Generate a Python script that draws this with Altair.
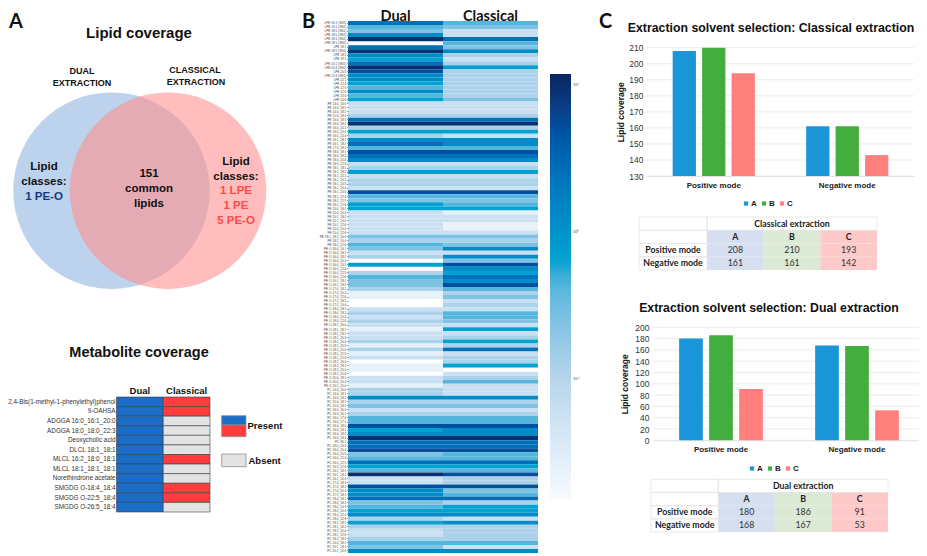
import altair as alt
import pandas as pd

W, H = 911, 545
SANS = "Liberation Sans"
HUM = "Lato"

# ---------- Panel A: Venn ----------
VENN_SETS = ["Dual extraction", "Classical extraction"]
VENN_CX = [111.5, 168]
VENN_CY = [190.7, 190.7]
VENN_TEXT = ["Lipid coverage", "DUAL", "EXTRACTION", "CLASSICAL", "EXTRACTION",
             "Lipid", "classes:", "1 PE-O", "151", "common", "lipids",
             "Lipid", "classes:", "1 LPE", "1 PE", "5 PE-O"]
VENN_TX = [139, 82, 82, 195, 196, 44, 44, 44, 149, 149, 149, 236, 236, 236, 236, 236]
VENN_TY = [33, 71, 83, 70, 82, 167, 182, 197, 174, 189, 204, 162, 177, 191, 206, 221]
VENN_TS = [15, 9, 9, 9, 9, 11.5, 11.5, 11.5, 11.5, 11.5, 11.5, 11.5, 11.5, 11.5, 11.5, 11.5]
VENN_TC = ["#111"] * 7 + ["#123a85"] + ["#111"] * 5 + ["#ff4a4a"] * 3

# ---------- Panel A: metabolites ----------
METABOLITES = ["2,4-Bis(1-methyl-1-phenylethyl)phenol", "9-OAHSA", "ADGGA 16:0_16:1_20:0",
               "ADGGA 18:0_18:0_22:3", "Deoxycholic acid", "DLCL 18:1_18:1",
               "MLCL 16:2_18:0_18:1", "MLCL 18:1_18:1_18:1", "Norethindrone acetate",
               "SMGDG O-18:4_18:4", "SMGDG O-22:5_18:4", "SMGDG O-26:5_18:4"]
CLASSICAL_PRESENT = [1, 1, 0, 0, 0, 0, 1, 0, 0, 1, 1, 0]

# ---------- Panel B: heatmap ----------
LIPIDS = [
 "LPE 16:1 (SN1)", "LPE 16:1 (SN2)", "LPE 18:0 (SN1)", "LPE 18:0 (SN2)", "LPE 18:1 (SN1)",
 "LPE 18:1 (SN2)", "LPE 18:1", "LPE 18:2 (SN1)", "LPE 18:2", "LPE 19:1",
 "LPE 20:1 (SN1)", "LPE 20:4 (SN1)", "LPE 20:5", "LPE 22:4 (SN1)", "LPE 22:1",
 "LPE 22:4", "LPE 22:5", "LPE 22:6", "LPE 24:5", "LPE 24:6",
 "PE 14:0_16:0", "PE 14:0_18:1", "PE 14:0_18:2", "PE 15:0_18:1", "PE 16:0_18:1",
 "PE 16:0_18:2", "PE 16:0_20:1", "PE 16:0_20:4", "PE 16:0_22:4", "PE 16:1_18:1",
 "PE 16:1_18:2", "PE 17:0_18:1", "PE 18:0_18:1", "PE 18:0_18:2", "PE 18:0_20:4",
 "PE 18:0_22:4", "PE 18:1_18:1", "PE 18:1_18:2", "PE 18:1_20:1", "PE 18:1_20:2",
 "PE 18:1_20:3", "PE 18:1_20:4", "PE 18:1_20:5", "PE 18:1_22:4", "PE 18:1_22:5",
 "PE 18:1_22:6", "PE 20:0_18:1", "PE 20:0_20:4", "PE 20:1_18:2", "PE 20:1_20:4",
 "PE 20:1_22:6", "PE 20:4_20:4", "PE 20:4_22:6", "PE 18:1_18:1_20:4", "PE 18:2_20:4",
 "PE 18:2_22:6",
 "PE O-16:0_16:1", "PE O-16:0_18:1", "PE O-16:0_18:2", "PE O-16:0_20:4", "PE O-16:0_20:5",
 "PE O-16:0_22:4", "PE O-16:0_22:5", "PE O-16:0_22:6", "PE O-16:1_18:1", "PE O-16:1_18:2",
 "PE O-17:0_18:1", "PE O-17:0_20:4", "PE O-17:0_22:6", "PE O-17:1_18:1", "PE O-17:1_20:4",
 "PE O-18:0_18:1", "PE O-18:0_18:2", "PE O-18:0_20:4", "PE O-18:0_22:6", "PE O-18:1_16:0",
 "PE O-18:1_18:1", "PE O-18:1_18:2", "PE O-18:1_20:3", "PE O-18:1_20:4", "PE O-18:1_20:5",
 "PE O-18:1_22:4", "PE O-18:1_22:5", "PE O-18:1_22:6", "PE O-18:2_16:0", "PE O-18:2_18:1",
 "PE O-18:2_20:4", "PE O-18:2_22:6", "PE O-20:0_18:1", "PE O-20:0_20:4", "PE O-20:1_20:4",
 "PC 14:0_16:0", "PC 14:0_18:1", "PC 14:0_18:2", "PC 15:0_18:1", "PC 15:0_18:2",
 "PC 16:0_16:0", "PC 16:0_16:1", "PC 16:0_17:0", "PC 16:0_17:1", "PC 16:0_18:0",
 "PC 16:0_18:1", "PC 16:0_18:2", "PC 16:0_18:3", "PC 36:1", "PC 16:0_20:3",
 "PC 16:0_20:4", "PC 16:0_20:5", "PC 16:0_22:4", "PC 16:0_22:5", "PC 16:0_22:6",
 "PC 16:1_18:1", "PC 16:1_18:2", "PC 16:1_20:4", "PC 17:0_18:1", "PC 17:0_18:2",
 "PC 17:0_20:4", "PC 17:1_18:1", "PC 18:0_18:1", "PC 18:0_18:2", "PC 18:0_20:3",
 "PC 18:0_20:4", "PC 18:0_22:4", "PC 18:0_22:6", "PC 18:1_18:1", "PC 18:1_18:2",
 "PC 18:1_20:4", "PC 18:1_22:6", "PC 18:2_18:2", "PC 20:0_18:1", "PC 20:1_18:1",
 "PC 20:1_20:4",
]
LEVEL_VALUES = [None, 0.025, 0.06, 0.12, 0.25, 0.42, 0.65, 1.2, 2.6, 5.0, 9.5]
DUAL_LEVELS = [8,5,4,7,10,0,8,10,7,6,8,10,9,7,7,6,5,7,5,6,
               2,2,2,3,8,10,3,6,3,7,8,5,9,
               8,7,2,3,6,2,3,3,2,9,5,4,6,6,2,2,2,2,2,2,4,3,5,4,2,3,0,6,0,3,5,4,4,
               3,1,1,0,0,2,3,2,3,2,1,2,2,3,1,3,1,2,0,1,1,0,2,2,1,3,3,7,3,4,2,3,5,
               5,9,6,7,10,8,8,9,4,5,8,6,5,10,2,2,9,7,7,8,4,5,6,7,3,6,3,2,2,3,5,4,7]
CLASSICAL_LEVELS = [5,4,2,2,8,5,4,7,3,2,3,6,3,3,3,3,3,3,3,4,
                    2,2,2,3,8,10,3,6,2,7,7,5,9,
                    8,7,2,3,6,2,3,3,2,9,5,4,5,6,1,2,2,1,1,2,4,3,4,7,2,7,4,9,7,6,8,7,9,
                    5,3,4,2,3,2,5,5,4,2,6,2,3,6,3,8,2,3,3,6,0,2,3,5,2,2,2,7,3,4,2,3,5,
                    5,9,7,7,10,8,8,9,5,5,8,6,5,9,3,3,9,4,5,8,3,6,6,7,2,7,3,3,3,3,5,2,7]
HEAT_DOMAIN = [0.0152, 0.1, 0.4, 0.62, 2.6, 5.0, 11.9]
HEAT_RANGE = ["#f7fbff", "#b6d6ec", "#5ab8de", "#00a4d3", "#0070b8", "#0050a0", "#08265f"]

# ---------- Panel C ----------
MODES = ["Positive mode", "Negative mode"]
SOLVENTS = ["A", "B", "C"]
CLASSICAL_BARS = [[208, 210, 194], [161, 161, 143]]
DUAL_BARS = [[180, 186, 91], [168, 167, 53]]
CLASSICAL_TABLE = [[208, 210, 193], [161, 161, 142]]
DUAL_TABLE = [[180, 186, 91], [168, 167, 53]]
SOLVENT_COLORS = ["#1a96d8", "#43ae3f", "#ff7f7c"]
TABLE_COLORS = ["#d5dff0", "#dcead5", "#fdc9c9"]
CLASSICAL_TICKS = [130, 140, 150, 160, 170, 180, 190, 200, 210]
DUAL_TICKS = [0, 20, 40, 60, 80, 100, 120, 140, 160, 180, 200]


def px(v):
    return v - 8


PAGE_X = alt.Scale(domain=[8, 8 + W], range=[0, W])
PAGE_Y = alt.Scale(domain=[8, 8 + H], range=[0, H])
layers = []


def one():
    return pd.DataFrame({"k": [1]})


# ---- Venn
for i, (col, op) in enumerate([("#bdd2ec", 1), ("#ff9191", 0.6)]):
    d = pd.DataFrame({"set": [VENN_SETS[i]], "cx": [VENN_CX[i]], "cy": [VENN_CY[i]]})
    layers.append(alt.Chart(d).mark_circle(size=196.5 ** 2, color=col, opacity=op).encode(
        x=alt.X("cx:Q", scale=PAGE_X, axis=None),
        y=alt.Y("cy:Q", scale=PAGE_Y, axis=None)))

vt = pd.DataFrame({"t": VENN_TEXT, "x": VENN_TX, "y": VENN_TY, "s": VENN_TS, "c": VENN_TC})
layers.append(alt.Chart(vt).mark_text(font=SANS, fontWeight="bold", align="center", baseline="middle").encode(
    x=alt.X("x:Q", scale=PAGE_X, axis=None), y=alt.Y("y:Q", scale=PAGE_Y, axis=None),
    text="t:N", size=alt.Size("s:Q", scale=None, legend=None), color=alt.Color("c:N", scale=None, legend=None)))

# ---- Panel letters and headline texts
letters = pd.DataFrame({"t": ["A", "B", "C"], "x": [9, 302, 599], "y": [22, 22, 22]})
layers.append(alt.Chart(letters).mark_text(font=HUM, fontWeight="bold", fontSize=20, align="left", baseline="middle", color="#111").encode(
    x=alt.X("x:Q", scale=PAGE_X, axis=None), y=alt.Y("y:Q", scale=PAGE_Y, axis=None), text="t:N"))
titles = pd.DataFrame({
    "t": ["Metabolite coverage", "Extraction solvent selection: Classical extraction",
          "Extraction solvent selection: Dual extraction"],
    "x": [139, 771, 769], "y": [353, 27.7, 308], "s": [14.5, 12.3, 12.3]})
layers.append(alt.Chart(titles).mark_text(font=SANS, fontWeight="bold", align="center", baseline="middle", color="#111").encode(
    x=alt.X("x:Q", scale=PAGE_X, axis=None), y=alt.Y("y:Q", scale=PAGE_Y, axis=None),
    text="t:N", size=alt.Size("s:Q", scale=None, legend=None)))

# ---- Metabolite grid
met = pd.DataFrame(
    [{"m": m, "col": "Dual", "state": "Dual"} for m in METABOLITES] +
    [{"m": m, "col": "Classical", "state": "Classical" if p else "Absent"}
     for m, p in zip(METABOLITES, CLASSICAL_PRESENT)])
layers.append(alt.Chart(met).mark_rect(stroke="#3a3f4a", strokeWidth=0.6).encode(
    x=alt.X("col:N", sort=["Dual", "Classical"],
            scale=alt.Scale(domain=["Dual", "Classical"], range=[px(116.5), px(210)], padding=0),
            axis=alt.Axis(orient="top", offset=-px(397), title=None, labelAngle=0, ticks=False, domain=False,
                          labelFont=SANS, labelFontSize=9.5, labelFontWeight="bold", labelColor="#111", labelPadding=2)),
    y=alt.Y("m:N", sort=METABOLITES,
            scale=alt.Scale(domain=METABOLITES, range=[px(397), px(512)], padding=0),
            axis=alt.Axis(orient="left", offset=-px(116.5), title=None, ticks=False, domain=False,
                          labelFont=SANS, labelFontSize=6.35, labelColor="#333", labelPadding=1.5,
                          labelLimit=200, labelOverlap=False)),
    color=alt.Color("state:N", scale=alt.Scale(domain=["Dual", "Classical", "Absent"],
                                               range=["#1b6ec8", "#ff3d3d", "#e3e3e3"]), legend=None)))

SWATCHES = [("#1b6ec8", 415.7, 425), ("#ff3d3d", 425, 436.7), ("#e3e3e3", 454, 466.7)]
for c, y0, y1 in SWATCHES:
    layers.append(alt.Chart(one()).mark_rect(color=c, stroke="#8a8f96", strokeWidth=0.8).encode(
        x=alt.value(px(221.7)), x2=alt.value(px(246)), y=alt.value(px(y0)), y2=alt.value(px(y1))))
legtext = pd.DataFrame({"t": ["Present", "Absent"], "x": [247.5, 248.5], "y": [425.7, 460.7]})
layers.append(alt.Chart(legtext).mark_text(font=SANS, fontWeight="bold", fontSize=9.5, align="left", baseline="middle", color="#111").encode(
    x=alt.X("x:Q", scale=PAGE_X, axis=None), y=alt.Y("y:Q", scale=PAGE_Y, axis=None), text="t:N"))

# ---- Heatmap
assert len(LIPIDS) == len(DUAL_LEVELS) == len(CLASSICAL_LEVELS) == 132 and len(set(LIPIDS)) == 132
heat = pd.DataFrame(
    [{"lipid": l, "col": "Dual", "v": LEVEL_VALUES[v]} for l, v in zip(LIPIDS, DUAL_LEVELS)] +
    [{"lipid": l, "col": "Classical", "v": LEVEL_VALUES[v]} for l, v in zip(LIPIDS, CLASSICAL_LEVELS)])
heat = heat.dropna()
layers.append(alt.Chart(heat).mark_rect().encode(
    x=alt.X("col:N", sort=["Dual", "Classical"],
            scale=alt.Scale(domain=["Dual", "Classical"], range=[px(348), px(538)], padding=0),
            axis=alt.Axis(orient="top", offset=-px(21), title=None, labelAngle=0, ticks=True, tickSize=1, tickColor="#999",
                          domain=False, labelFont=HUM, labelFontSize=14.5, labelFontWeight="bold", labelColor="#111",
                          labelPadding=-3)),
    y=alt.Y("lipid:N", sort=LIPIDS,
            scale=alt.Scale(domain=LIPIDS, range=[px(21), px(553)], padding=0),
            axis=alt.Axis(orient="left", offset=-px(348), title=None, tickSize=1.5, tickColor="#999", domain=False,
                          labelFont=SANS, labelFontSize=3.1, labelColor="#444", labelPadding=0.8, labelOverlap=False)),
    color=alt.Color("v:Q", scale=alt.Scale(type="log", domain=HEAT_DOMAIN, range=HEAT_RANGE),
                    legend=alt.Legend(orient="none", legendX=px(550), legendY=px(74), title=None,
                                      gradientLength=425, gradientThickness=21, values=[0.1, 1, 10],
                                      labelExpr="datum.value >= 10 ? '10¹' : datum.value >= 1 ? '10⁰' : '10⁻¹'",
                                      labelFont=SANS, labelFontSize=4, labelColor="#444", labelOffset=2))))


# ---- Bars and tables
def bars(values, ticks, ydom, ypx, xpx, title_px, legend_xy):
    y_scale = alt.Scale(domain=ydom, range=[px(ypx[0]), px(ypx[1])], clamp=True)
    gx0, gx1 = xpx
    rows = pd.DataFrame({"tick": ticks})
    layers.append(alt.Chart(rows).mark_rule(color="#e6e6e6", strokeWidth=0.8).encode(
        y=alt.Y("tick:Q", scale=y_scale, axis=None),
        x=alt.value(px(gx0)), x2=alt.value(px(gx1))))
    d = pd.DataFrame([{"mode": m, "s": s, "v": values[i][j]}
                      for i, m in enumerate(MODES) for j, s in enumerate(SOLVENTS)])
    layers.append(alt.Chart(d).mark_bar().encode(
        x=alt.X("mode:N", sort=MODES,
                scale=alt.Scale(domain=MODES, range=[px(gx0), px(gx1)], paddingInner=0.338, paddingOuter=0.169),
                axis=alt.Axis(orient="bottom", offset=-(H - px(ypx[0])), title=None, labelAngle=0, ticks=False,
                              domain=True, domainColor="#e0e0e0", labelFont=SANS, labelFontSize=8,
                              labelFontWeight="bold", labelColor="#222", labelPadding=5)),
        xOffset=alt.XOffset("s:N", sort=SOLVENTS, scale=alt.Scale(domain=SOLVENTS, paddingInner=0.21, paddingOuter=0.105)),
        y=alt.Y("v:Q", stack=None, scale=y_scale,
                axis=alt.Axis(orient="left", offset=-px(gx0), values=ticks, grid=False, ticks=False, domain=False,
                              title="Lipid coverage", titleFont=SANS, titleFontSize=8.5, titleFontWeight="bold",
                              titleColor="#111", titlePadding=title_px, labelFont=SANS, labelFontSize=8.5,
                              labelColor="#333", labelPadding=4)),
        color=alt.Color("s:N", sort=SOLVENTS, scale=alt.Scale(domain=SOLVENTS, range=SOLVENT_COLORS),
                        legend=alt.Legend(orient="none", legendX=px(legend_xy[0]), legendY=px(legend_xy[1]),
                                          direction="horizontal", title=None, symbolType="square", symbolSize=18,
                                          labelFont=SANS, labelFontSize=8, labelFontWeight="bold", labelColor="#222",
                                          columns=3, columnPadding=3, labelOffset=1, padding=0))))


def table(name, values, x_lab0, x0, x1, y0, y1):
    rows = ["head", "abc"] + MODES
    xs = alt.Scale(type="band", domain=SOLVENTS, range=[px(x0), px(x1)], padding=0)
    ys = alt.Scale(type="band", domain=rows, range=[px(y0), px(y1)], padding=0)
    X = alt.X("s:N", sort=SOLVENTS, scale=xs, axis=None)
    Y = alt.Y("r:N", sort=rows, scale=ys, axis=None)
    XT = alt.X("s:N", sort=SOLVENTS, scale=xs, axis=None, bandPosition=0.5)
    YT = alt.Y("r:N", sort=rows, scale=ys, axis=None, bandPosition=0.5)
    cells = pd.DataFrame([{"s": s, "r": r} for s in SOLVENTS for r in rows[1:]])
    layers.append(alt.Chart(cells).mark_rect().encode(
        x=X, y=Y, color=alt.Color("s:N", scale=alt.Scale(domain=SOLVENTS, range=TABLE_COLORS), legend=None)))
    frames = pd.DataFrame({"r": rows})
    layers.append(alt.Chart(frames).mark_rect(fill="white", fillOpacity=0, stroke="#e4e4e4", strokeWidth=0.8).encode(
        x=alt.value(px(x_lab0)), x2=alt.value(px(x0)), y=Y))
    layers.append(alt.Chart(frames[frames.r == "head"]).mark_rect(fill="white", fillOpacity=0, stroke="#e4e4e4", strokeWidth=0.8).encode(
        x=alt.value(px(x0)), x2=alt.value(px(x1)), y=Y))
    layers.append(alt.Chart(pd.DataFrame({"t": [name], "r": ["head"]})).mark_text(
        font=HUM, fontWeight="bold", fontSize=8.8, color="#222", baseline="middle").encode(
        x=alt.value(px((x0 + x1) / 2)), y=YT, text="t:N"))
    layers.append(alt.Chart(pd.DataFrame({"s": SOLVENTS, "r": ["abc"] * 3})).mark_text(
        font=HUM, fontWeight="bold", fontSize=8.8, color="#222", baseline="middle").encode(x=XT, y=YT, text="s:N"))
    layers.append(alt.Chart(pd.DataFrame({"r": MODES})).mark_text(
        font=HUM, fontWeight="bold", fontSize=8.8, color="#222", baseline="middle").encode(
        x=alt.value(px((x_lab0 + x0) / 2)), y=YT, text="r:N"))
    vals = pd.DataFrame([{"s": s, "r": m, "v": values[i][j]}
                         for i, m in enumerate(MODES) for j, s in enumerate(SOLVENTS)])
    layers.append(alt.Chart(vals).mark_text(font=HUM, fontSize=8.8, color="#333", baseline="middle").encode(
        x=XT, y=YT, text="v:Q"))


bars(CLASSICAL_BARS, CLASSICAL_TICKS, [130, 210], (176, 47.7), (647, 914), 3, (742, 199.5))
table("Classical extraction", CLASSICAL_TABLE, 639, 707, 877, 217, 270)
bars(DUAL_BARS, DUAL_TICKS, [0, 200], (440.3, 327.3), (653, 925), 5, (748, 464.5))
table("Dual extraction", DUAL_TABLE, 651, 718.3, 888, 479.3, 532)

chart = alt.layer(*layers).resolve_scale(
    x="independent", y="independent", color="independent", xOffset="independent", size="independent"
).properties(
    width=W, height=H, padding=0, autosize=alt.AutoSizeParams(type="none")
).configure_view(stroke=None)

chart.save("out.html", embed_options={"renderer": "svg", "actions": False})
